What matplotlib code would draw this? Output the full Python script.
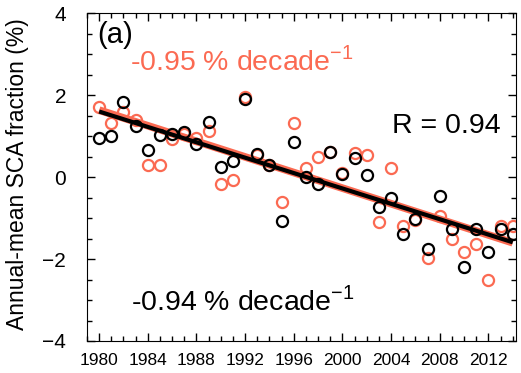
import numpy as np
from matplotlib import pyplot as plt
from matplotlib.ticker import MultipleLocator

plt.rcParams["font.family"] = ["Liberation Sans", "DejaVu Sans"]
plt.rcParams["mathtext.fontset"] = "custom"
plt.rcParams["mathtext.rm"] = "Liberation Sans"

# data
years = np.arange(1980, 2015)
sca_black = [0.95, 1.01, 1.83, 1.25, 0.66, 1.02, 1.06, 1.10, 0.81, 1.34,
             0.25, 0.40, 1.91, 0.57, 0.29, -1.07, 0.85, -0.01, -0.17, 0.61,
             0.07, 0.46, 0.05, -0.73, -0.51, -1.39, -1.03, -1.76, -0.46, -1.27,
             -2.20, -1.27, -1.83, -1.27, -1.39]
sca_red = [1.71, 1.32, 1.59, 1.39, 0.29, 0.29, 0.94, 1.05, 0.95, 1.12,
           -0.17, -0.07, 1.96, 0.54, 0.29, -0.61, 1.32, 0.22, 0.49, 0.62,
           0.10, 0.59, 0.54, -1.10, 0.22, -1.20, -1.05, -1.98, -0.95, -1.51,
           -1.83, -1.63, -2.51, -1.20, -1.20]

red = "#fb6a52"

fig = plt.figure(figsize=(5.21, 3.73), dpi=100)
ax = fig.add_axes([0.167, 0.0858, 0.823, 0.879])

# red series + fit
ax.plot(years, sca_red, "o", mfc="none", mec=red, ms=8, mew=1.6, zorder=2)
p_red = np.polyfit(years, sca_red, 1)
ax.plot(years, np.polyval(p_red, years), color=red, lw=5.5, solid_capstyle="butt", zorder=3)

# black series + fit
p_blk = np.polyfit(years, sca_black, 1)
ax.plot(years, np.polyval(p_blk, years), color="black", lw=3, solid_capstyle="butt", zorder=4)
ax.plot(years, sca_black, "o", mfc="none", mec="black", ms=8, mew=1.6, zorder=5)

ax.set_xlim(1979, 2014.25)
ax.set_ylim(-4, 4)
ax.xaxis.set_major_locator(MultipleLocator(4))
ax.xaxis.set_minor_locator(MultipleLocator(1))
ax.yaxis.set_major_locator(MultipleLocator(2))
ax.yaxis.set_minor_locator(MultipleLocator(0.5))
ax.tick_params(which="both", direction="in", top=True, right=True)
ax.tick_params(which="major", length=6, width=1)
ax.tick_params(which="minor", length=3.5, width=1)
ax.tick_params(axis="x", labelsize=12.5, pad=9)
ax.tick_params(axis="y", labelsize=15, pad=15)

ax.set_ylabel("Annual-mean SCA fraction (%)", fontsize=16.5)
ax.yaxis.set_label_coords(-0.135, 0.51)

ax.text(0.023, 0.909, "(a)", transform=ax.transAxes, fontsize=21, va="baseline")
ax.text(0.1, 0.826, r"-0.95 % decade$^{\mathregular{-1}}$", transform=ax.transAxes,
        fontsize=20.5, color=red, va="baseline")
ax.text(0.711, 0.634, "R = 0.94", transform=ax.transAxes, fontsize=20.5, va="baseline")
ax.text(0.103, 0.0945, r"-0.94 % decade$^{\mathregular{-1}}$", transform=ax.transAxes,
        fontsize=20.5, va="baseline")

plt.savefig("out.png", dpi=100)
